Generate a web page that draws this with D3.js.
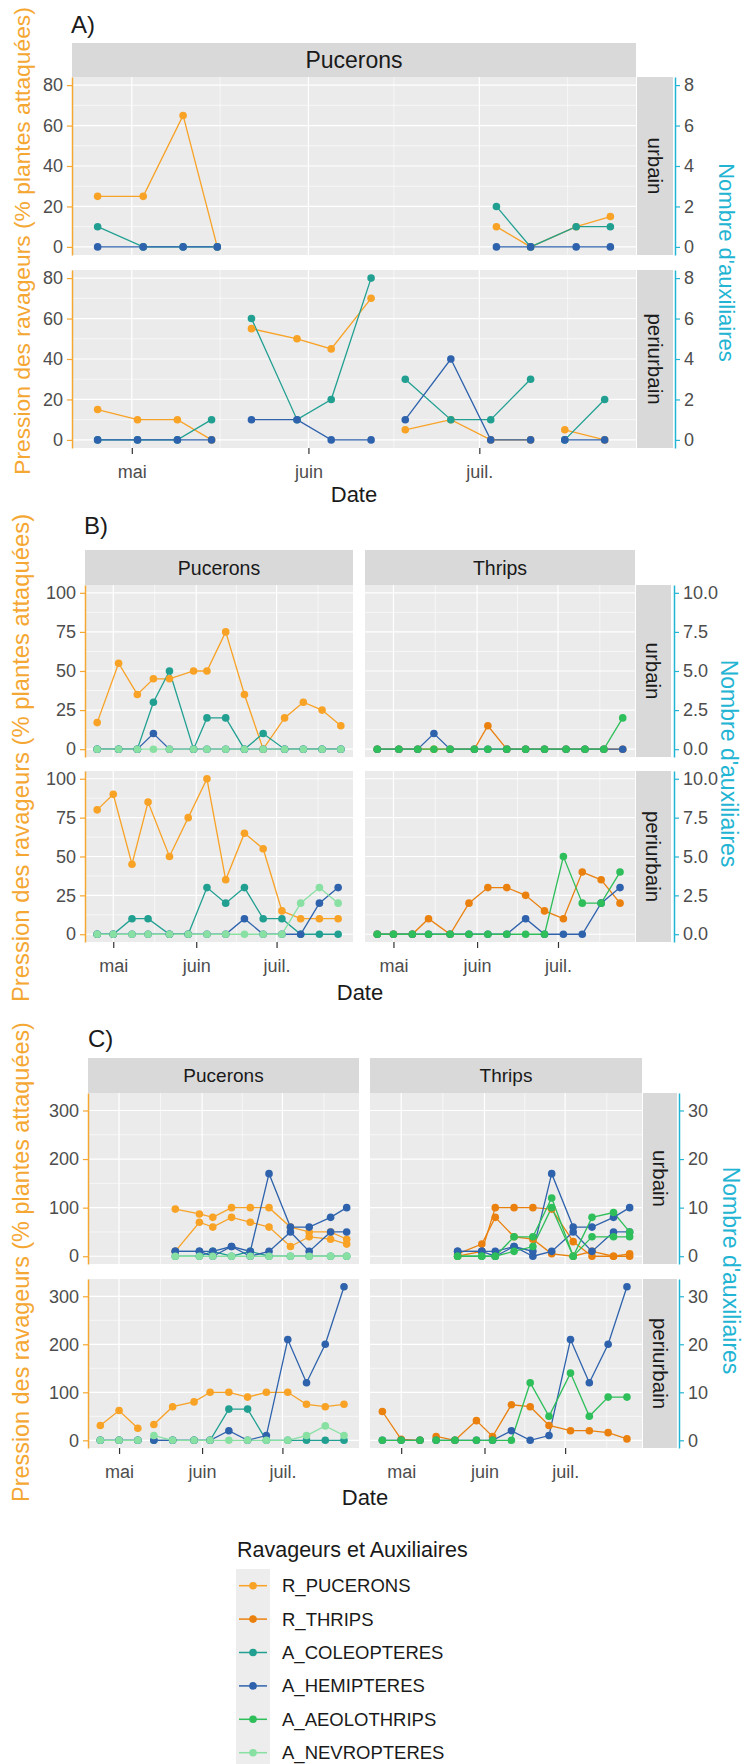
<!DOCTYPE html>
<html>
<head>
<meta charset="utf-8">
<script src="https://cdn.jsdelivr.net/npm/d3@7"></script>
<style>
body { margin: 0; background: #fff; }
text { font-family: "Liberation Sans", Arial, sans-serif; }
</style>
</head>
<body>
<script>
var width = 744,
    height = 1764;

var svg = d3.select("body").append("svg")
    .attr("width", width)
    .attr("height", height);

var parseDate = d3.timeParse("%Y-%m-%d");

// series + legend
var seriesNames = ["R_PUCERONS", "R_THRIPS", "A_COLEOPTERES", "A_HEMIPTERES", "A_AEOLOTHRIPS", "A_NEVROPTERES"];
var seriesColors = ["#F8A226", "#EA810F", "#21A092", "#2E62AC", "#2EBE5A", "#88E0A2"];
var color = d3.scaleOrdinal().domain(seriesNames).range(seriesColors);

var monthTicks = ["2021-05-01", "2021-06-01", "2021-07-01"];
var monthLabels = ["mai", "juin", "juil."];
var monthEdges = ["2021-04-01", "2021-05-01", "2021-06-01", "2021-07-01", "2021-08-01"];

var leftTitle = "Pression des ravageurs (% plantes attaquées)";
var rightTitle = "Nombre d'auxiliaires";
var legendTitle = "Ravageurs et Auxiliaires";
var orangeAxis = "#F5A733",
    cyanAxis = "#22B4D3";

//A) Pucerons
var leftTicksA = [0, 20, 40, 60, 80];
var rightTicksA = [0, 2, 4, 6, 8];
var aUrbDates = ["2021-04-25", "2021-05-03", "2021-05-10", "2021-05-16", "2021-06-10", "2021-07-04", "2021-07-10", "2021-07-18", "2021-07-24"];
var aUrbPucerons = [25, 25, 65, 0, null, 10, 0, 10, 15];
var aUrbColeo = [1, 0, 0, 0, null, 2, 0, 1, 1];
var aUrbHemi = [0, 0, 0, 0, null, 0, 0, 0, 0];
var aPeriDates = ["2021-04-25", "2021-05-02", "2021-05-09", "2021-05-15", "2021-05-18", "2021-05-22", "2021-05-30", "2021-06-05", "2021-06-12", "2021-06-15",
    "2021-06-18", "2021-06-26", "2021-07-03", "2021-07-10", "2021-07-13", "2021-07-16", "2021-07-23"];
var aPeriPucerons = [15, 10, 10, 0, null, 55, 50, 45, 70, null, 5, 10, 0, 0, null, 5, 0];
var aPeriColeo = [0, 0, 0, 1, null, 6, 1, 2, 8, null, 3, 1, 1, 3, null, 0, 2];
var aPeriHemi = [0, 0, 0, 0, null, 1, 1, 0, 0, null, 1, 4, 0, 0, null, 0, 0];

//B) Pucerons + Thrips
var leftTicksB = [0, 25, 50, 75, 100];
var rightTicksB = [0, 2.5, 5, 7.5, 10];
var bUrbDates = ["2021-04-25", "2021-05-03", "2021-05-10", "2021-05-16", "2021-05-22", "2021-05-31", "2021-06-05", "2021-06-12", "2021-06-19", "2021-06-26", "2021-07-04", "2021-07-11", "2021-07-18", "2021-07-25"];
var bUrbPucerons = [17, 55, 35, 45, 45, 50, 50, 75, 35, 0, 20, 30, 25, 15];
var bUrbThrips = [0, 0, 0, 0, 0, 0, 15, 0, 0, 0, 0, 0, 0, 0];
var bUrbColeo = [0, 0, 0, 3, 5, 0, 2, 2, 0, 1, 0, 0, 0, 0];
var bUrbHemi = [0, 0, 0, 1, 0, 0, 0, 0, 0, 0, 0, 0, 0, 0];
var bUrbAeolo = [0, 0, 0, 0, 0, 0, 0, 0, 0, 0, 0, 0, 0, 2];
var bUrbNevro = [0, 0, 0, 0, 0, 0, 0, 0, 0, 0, 0, 0, 0, 0];
var bPeriDates = ["2021-04-25", "2021-05-01", "2021-05-08", "2021-05-14", "2021-05-22", "2021-05-29", "2021-06-05", "2021-06-12", "2021-06-19", "2021-06-26", "2021-07-03", "2021-07-10", "2021-07-17", "2021-07-24"];
var bPeriPucerons = [80, 90, 45, 85, 50, 75, 100, 35, 65, 55, 15, 10, 10, 10];
var bPeriThrips = [0, 0, 0, 10, 0, 20, 30, 30, 25, 15, 10, 40, 35, 20];
var bPeriColeo = [0, 0, 1, 1, 0, 0, 3, 2, 3, 1, 1, 0, 0, 0];
var bPeriHemi = [0, 0, 0, 0, 0, 0, 0, 0, 1, 0, 0, 0, 2, 3];
var bPeriAeolo = [0, 0, 0, 0, 0, 0, 0, 0, 0, 0, 5, 2, 2, 4];
var bPeriNevro = [0, 0, 0, 0, 0, 0, 0, 0, 0, 0, 0, 2, 3, 2];

//C) Pucerons + Thrips, several sites
var leftTicksC = [0, 100, 200, 300];
var rightTicksC = [0, 10, 20, 30];
var cUrbDates = ["2021-05-22", "2021-05-31", "2021-06-05", "2021-06-12", "2021-06-19", "2021-06-26", "2021-07-04", "2021-07-11", "2021-07-19", "2021-07-25"];
var cUrbPucerons1 = [97, 87, 80, 100, 100, 100, 60, 50, 50, 35];
var cUrbPucerons2 = [10, 70, 60, 80, 70, 60, 20, 40, 35, 25];
var cUrbThrips1 = [0, 10, 100, 100, 100, 97, 30, 0, 0, 0];
var cUrbThrips2 = [5, 25, 80, 40, 35, 5, 0, 10, 0, 5];
var cUrbColeo = [0, 0, 1, 0, 1, 0, 0, 0, 0, 0];
var cUrbHemi1 = [1, 1, 1, 2, 1, 17, 6, 6, 8, 10];
var cUrbHemi2 = [1, 1, 0, 2, 0, 1, 5, 1, 5, 5];
var cUrbAeolo1 = [0, 0, 0, 4, 4, 12, 0, 8, 9, 5];
var cUrbAeolo2 = [0, 0, 0, 1, 2, 10, 0, 4, 4, 4];
var cUrbNevro = [0, 0, 0, 0, 0, 0, 0, 0, 0, 0];
var cPeriDates = ["2021-04-24", "2021-05-01", "2021-05-08", "2021-05-11", "2021-05-14", "2021-05-21", "2021-05-29", "2021-06-04", "2021-06-11", "2021-06-18",
    "2021-06-25", "2021-07-03", "2021-07-10", "2021-07-17", "2021-07-24"];
var cPeriPucerons = [31, 62, 25, null, 33, 70, 80, 100, 100, 90, 100, 100, 75, 70, 75];
var cPeriThrips = [60, 2, 0, null, 8, 0, 41, 8, 74, 70, 31, 20, 20, 16, 3];
var cPeriColeo = [0, 0, 0, null, 0, 0, 0, 0, 6.5, 6.5, 0, 0, 0, 0, 0];
var cPeriHemi = [0, 0, 0, null, 0, 0, 0, 0, 2, 0, 1, 21, 12, 20, 32];
var cPeriAeolo = [0, 0, 0, null, 0, 0, 0, 0, 0, 12, 5, 14, 5, 9, 9];
var cPeriNevro = [0, 0, 0, null, 1, 0, 0, 0, 0, 0, 0, 0, 1, 3, 1];

var figA = {
    label: "A)", labelX: 71, labelY: 33,
    cols: [{name: "Pucerons", x0: 72, x1: 636}],
    rows: [{name: "urbain", y0: 77, y1: 255}, {name: "periurbain", y0: 270, y1: 448}],
    stripTop: 43, stripX0: 637, stripX1: 673, axisR: 675,
    leftTicks: leftTicksA, rightTicks: rightTicksA, rightFmt: d3.format("d"), factor: 10,
    stripFont: 23, stripYFont: 20.5, tickFont: 18, monthFont: 18,
    leftTitleX: 30, leftTitleY: 241, leftTitleFont: 22.8, rightTitleX: 719, rightTitleFont: 22,
    dateY: 502, dateFont: 22,
    facets: [
        {col: 0, row: 0, dates: aUrbDates, series: [["R_PUCERONS", aUrbPucerons], ["A_COLEOPTERES", aUrbColeo], ["A_HEMIPTERES", aUrbHemi]]},
        {col: 0, row: 1, dates: aPeriDates, series: [["R_PUCERONS", aPeriPucerons], ["A_COLEOPTERES", aPeriColeo], ["A_HEMIPTERES", aPeriHemi]]}
    ]
};

var figB = {
    label: "B)", labelX: 84, labelY: 534,
    cols: [{name: "Pucerons", x0: 85, x1: 353}, {name: "Thrips", x0: 365, x1: 635}],
    rows: [{name: "urbain", y0: 585, y1: 757}, {name: "periurbain", y0: 771, y1: 942}],
    stripTop: 550, stripX0: 636, stripX1: 671, axisR: 674,
    leftTicks: leftTicksB, rightTicks: rightTicksB, rightFmt: d3.format(".1f"), factor: 10,
    stripFont: 19.5, stripYFont: 20.5, tickFont: 18, monthFont: 18,
    leftTitleX: 29, leftTitleY: 758, leftTitleFont: 23.8, rightTitleX: 721, rightTitleFont: 23,
    dateY: 1000, dateFont: 22,
    facets: [
        {col: 0, row: 0, dates: bUrbDates, series: [["R_PUCERONS", bUrbPucerons], ["A_COLEOPTERES", bUrbColeo], ["A_HEMIPTERES", bUrbHemi], ["A_NEVROPTERES", bUrbNevro]]},
        {col: 1, row: 0, dates: bUrbDates, series: [["R_THRIPS", bUrbThrips], ["A_HEMIPTERES", bUrbHemi], ["A_AEOLOTHRIPS", bUrbAeolo]]},
        {col: 0, row: 1, dates: bPeriDates, series: [["R_PUCERONS", bPeriPucerons], ["A_COLEOPTERES", bPeriColeo], ["A_HEMIPTERES", bPeriHemi], ["A_NEVROPTERES", bPeriNevro]]},
        {col: 1, row: 1, dates: bPeriDates, series: [["R_THRIPS", bPeriThrips], ["A_HEMIPTERES", bPeriHemi], ["A_AEOLOTHRIPS", bPeriAeolo]]}
    ]
};

var figC = {
    label: "C)", labelX: 88, labelY: 1047,
    cols: [{name: "Pucerons", x0: 88, x1: 359}, {name: "Thrips", x0: 370, x1: 642}],
    rows: [{name: "urbain", y0: 1093, y1: 1264}, {name: "periurbain", y0: 1279, y1: 1448}],
    stripTop: 1058, stripX0: 643, stripX1: 677, axisR: 679,
    leftTicks: leftTicksC, rightTicks: rightTicksC, rightFmt: d3.format("d"), factor: 10,
    stripFont: 19, stripYFont: 20.5, tickFont: 18, monthFont: 18,
    leftTitleX: 29, leftTitleY: 1262, leftTitleFont: 23.4, rightTitleX: 723, rightTitleFont: 23,
    dateY: 1505, dateFont: 22,
    facets: [
        {col: 0, row: 0, dates: cUrbDates, series: [["R_PUCERONS", cUrbPucerons1], ["R_PUCERONS", cUrbPucerons2], ["A_COLEOPTERES", cUrbColeo],
            ["A_HEMIPTERES", cUrbHemi1], ["A_HEMIPTERES", cUrbHemi2], ["A_NEVROPTERES", cUrbNevro]]},
        {col: 1, row: 0, dates: cUrbDates, series: [["R_THRIPS", cUrbThrips1], ["R_THRIPS", cUrbThrips2], ["A_HEMIPTERES", cUrbHemi1], ["A_HEMIPTERES", cUrbHemi2],
            ["A_AEOLOTHRIPS", cUrbAeolo1], ["A_AEOLOTHRIPS", cUrbAeolo2]]},
        {col: 0, row: 1, dates: cPeriDates, series: [["R_PUCERONS", cPeriPucerons], ["A_COLEOPTERES", cPeriColeo], ["A_HEMIPTERES", cPeriHemi], ["A_NEVROPTERES", cPeriNevro]]},
        {col: 1, row: 1, dates: cPeriDates, series: [["R_THRIPS", cPeriThrips], ["A_HEMIPTERES", cPeriHemi], ["A_AEOLOTHRIPS", cPeriAeolo]]}
    ]
};

function isAux(name) { return name.indexOf("A_") === 0; }

function styleAxis(ax, lineColor, fontSize) {
    ax.attr("font-family", "Liberation Sans, Arial, sans-serif")
        .attr("font-size", fontSize);
    ax.select(".domain").attr("stroke", lineColor).attr("stroke-width", 1.5);
    ax.selectAll(".tick line").attr("stroke", lineColor).attr("stroke-width", 1.2);
    ax.selectAll(".tick text").attr("fill", "#4D4D4D");
}

function drawFigure(f) {
    var g = svg.append("g");

    // ggplot-like limits: data range + 5%
    var dates = [], maxV = 0;
    f.facets.forEach(function(fc) {
        fc.series.forEach(function(s) {
            s[1].forEach(function(v, i) {
                if (v == null) return;
                dates.push(parseDate(fc.dates[i]));
                maxV = Math.max(maxV, isAux(s[0]) ? v * f.factor : v);
            });
        });
    });
    var ext = d3.extent(dates),
        pad = (ext[1] - ext[0]) * 0.05;
    var xDom = [new Date(+ext[0] - pad), new Date(+ext[1] + pad)];
    var yDom = [-maxV * 0.05, maxV * 1.05];

    var xs = f.cols.map(function(c) { return d3.scaleTime().domain(xDom).range([c.x0, c.x1]); });
    var ys = f.rows.map(function(r) { return d3.scaleLinear().domain(yDom).range([r.y1, r.y0]); });
    var yRs = f.rows.map(function(r) {
        return d3.scaleLinear().domain(yDom.map(function(v) { return v / f.factor; })).range([r.y1, r.y0]);
    });

    var step = f.leftTicks[1] - f.leftTicks[0];
    var yMinor = d3.range(f.leftTicks[0] - step / 2, f.leftTicks[f.leftTicks.length - 1] + step, step)
        .filter(function(v) { return v > yDom[0] && v < yDom[1]; });
    var xMajor = monthTicks.map(parseDate);
    var xMinor = d3.pairs(monthEdges.map(parseDate))
        .map(function(p) { return new Date((+p[0] + +p[1]) / 2); })
        .filter(function(d) { return d > xDom[0] && d < xDom[1]; });

    // panels
    f.facets.forEach(function(fc) {
        var x = xs[fc.col], y = ys[fc.row], c = f.cols[fc.col], r = f.rows[fc.row];
        var p = g.append("g");
        p.append("rect")
            .attr("x", c.x0).attr("y", r.y0)
            .attr("width", c.x1 - c.x0).attr("height", r.y1 - r.y0)
            .attr("fill", "#EBEBEB");
        p.selectAll(null).data(yMinor).enter().append("line")
            .attr("x1", c.x0).attr("x2", c.x1)
            .attr("y1", y).attr("y2", y)
            .attr("stroke", "#fff").attr("stroke-width", 0.6);
        p.selectAll(null).data(xMinor).enter().append("line")
            .attr("y1", r.y0).attr("y2", r.y1)
            .attr("x1", x).attr("x2", x)
            .attr("stroke", "#fff").attr("stroke-width", 0.6);
        p.selectAll(null).data(f.leftTicks).enter().append("line")
            .attr("x1", c.x0).attr("x2", c.x1)
            .attr("y1", y).attr("y2", y)
            .attr("stroke", "#fff").attr("stroke-width", 1.2);
        p.selectAll(null).data(xMajor).enter().append("line")
            .attr("y1", r.y0).attr("y2", r.y1)
            .attr("x1", x).attr("x2", x)
            .attr("stroke", "#fff").attr("stroke-width", 1.2);

        var lines = fc.series.map(function(s) {
            return {
                name: s[0],
                vals: s[1].map(function(v, i) {
                    return {d: parseDate(fc.dates[i]), v: v == null ? null : (isAux(s[0]) ? v * f.factor : v)};
                })
            };
        });
        var line = d3.line()
            .defined(function(d) { return d.v != null; })
            .x(function(d) { return x(d.d); })
            .y(function(d) { return y(d.v); });

        p.selectAll(null).data(lines).enter().append("path")
            .attr("d", function(d) { return line(d.vals); })
            .attr("fill", "none")
            .attr("stroke", function(d) { return color(d.name); })
            .attr("stroke-width", 1.3);
        lines.forEach(function(s) {
            p.selectAll(null).data(s.vals.filter(function(d) { return d.v != null; })).enter().append("circle")
                .attr("cx", function(d) { return x(d.d); })
                .attr("cy", function(d) { return y(d.v); })
                .attr("r", 3.8)
                .attr("fill", color(s.name));
        });
    });

    // strips on top
    f.cols.forEach(function(c) {
        g.append("rect")
            .attr("x", c.x0).attr("y", f.stripTop)
            .attr("width", c.x1 - c.x0).attr("height", f.rows[0].y0 - f.stripTop)
            .attr("fill", "#D9D9D9");
        g.append("text")
            .attr("x", (c.x0 + c.x1) / 2).attr("y", (f.stripTop + f.rows[0].y0) / 2)
            .attr("text-anchor", "middle").attr("dominant-baseline", "central")
            .attr("font-size", f.stripFont).attr("fill", "#1A1A1A")
            .text(c.name);
    });
    // strips on the right
    f.rows.forEach(function(r) {
        g.append("rect")
            .attr("x", f.stripX0).attr("y", r.y0)
            .attr("width", f.stripX1 - f.stripX0).attr("height", r.y1 - r.y0)
            .attr("fill", "#D9D9D9");
        var cx = (f.stripX0 + f.stripX1) / 2, cy = (r.y0 + r.y1) / 2;
        g.append("text")
            .attr("transform", "translate(" + cx + "," + cy + ") rotate(90)")
            .attr("text-anchor", "middle").attr("dominant-baseline", "central")
            .attr("font-size", f.stripYFont).attr("fill", "#1A1A1A")
            .text(r.name);
    });

    // axes
    f.rows.forEach(function(r, ri) {
        var axL = g.append("g")
            .attr("transform", "translate(" + f.cols[0].x0 + ",0)")
            .call(d3.axisLeft(ys[ri]).tickValues(f.leftTicks).tickSize(5).tickSizeOuter(0).tickPadding(4));
        styleAxis(axL, orangeAxis, f.tickFont);
        var axR = g.append("g")
            .attr("transform", "translate(" + f.axisR + ",0)")
            .call(d3.axisRight(yRs[ri]).tickValues(f.rightTicks).tickFormat(f.rightFmt).tickSize(5).tickSizeOuter(0).tickPadding(4));
        styleAxis(axR, cyanAxis, f.tickFont);
    });
    var last = f.rows[f.rows.length - 1];
    f.cols.forEach(function(c, ci) {
        var axB = g.append("g")
            .attr("transform", "translate(0," + last.y1 + ")")
            .call(d3.axisBottom(xs[ci]).tickValues(xMajor)
                .tickFormat(function(d, i) { return monthLabels[i]; })
                .tickSize(6).tickPadding(11));
        styleAxis(axB, "#333333", f.monthFont);
        axB.select(".domain").remove();
    });

    // titles
    var midY = (f.rows[0].y0 + last.y1) / 2;
    g.append("text")
        .attr("transform", "translate(" + f.leftTitleX + "," + f.leftTitleY + ") rotate(-90)")
        .attr("text-anchor", "middle")
        .attr("font-size", f.leftTitleFont).attr("fill", orangeAxis)
        .text(leftTitle);
    g.append("text")
        .attr("transform", "translate(" + f.rightTitleX + "," + midY + ") rotate(90)")
        .attr("text-anchor", "middle")
        .attr("font-size", f.rightTitleFont).attr("fill", cyanAxis)
        .text(rightTitle);
    g.append("text")
        .attr("x", (f.cols[0].x0 + f.cols[f.cols.length - 1].x1) / 2).attr("y", f.dateY)
        .attr("text-anchor", "middle")
        .attr("font-size", f.dateFont).attr("fill", "#1A1A1A")
        .text("Date");
    g.append("text")
        .attr("x", f.labelX).attr("y", f.labelY)
        .attr("font-size", 24).attr("fill", "#1A1A1A")
        .text(f.label);
}

drawFigure(figA);
drawFigure(figB);
drawFigure(figC);

//legend
var legend = svg.append("g");
legend.append("text")
    .attr("x", 237).attr("y", 1557)
    .attr("font-size", 21.5).attr("fill", "#1A1A1A")
    .text(legendTitle);
var keyY = d3.scaleBand().domain(seriesNames).range([1569, 1769.4]);
legend.append("rect")
    .attr("x", 236).attr("y", keyY.range()[0])
    .attr("width", 34).attr("height", keyY.range()[1] - keyY.range()[0])
    .attr("fill", "#EDEDED");
var item = legend.selectAll("g.item").data(seriesNames).enter().append("g")
    .attr("class", "item")
    .attr("transform", function(d) { return "translate(0," + (keyY(d) + keyY.bandwidth() / 2) + ")"; });
item.append("line")
    .attr("x1", 239).attr("x2", 267)
    .attr("stroke", function(d) { return color(d); })
    .attr("stroke-width", 1.5);
item.append("circle")
    .attr("cx", 253).attr("r", 3.8)
    .attr("fill", function(d) { return color(d); });
item.append("text")
    .attr("x", 282).attr("dy", "0.35em")
    .attr("font-size", 18.5).attr("fill", "#1A1A1A")
    .text(function(d) { return d; });
</script>
</body>
</html>
